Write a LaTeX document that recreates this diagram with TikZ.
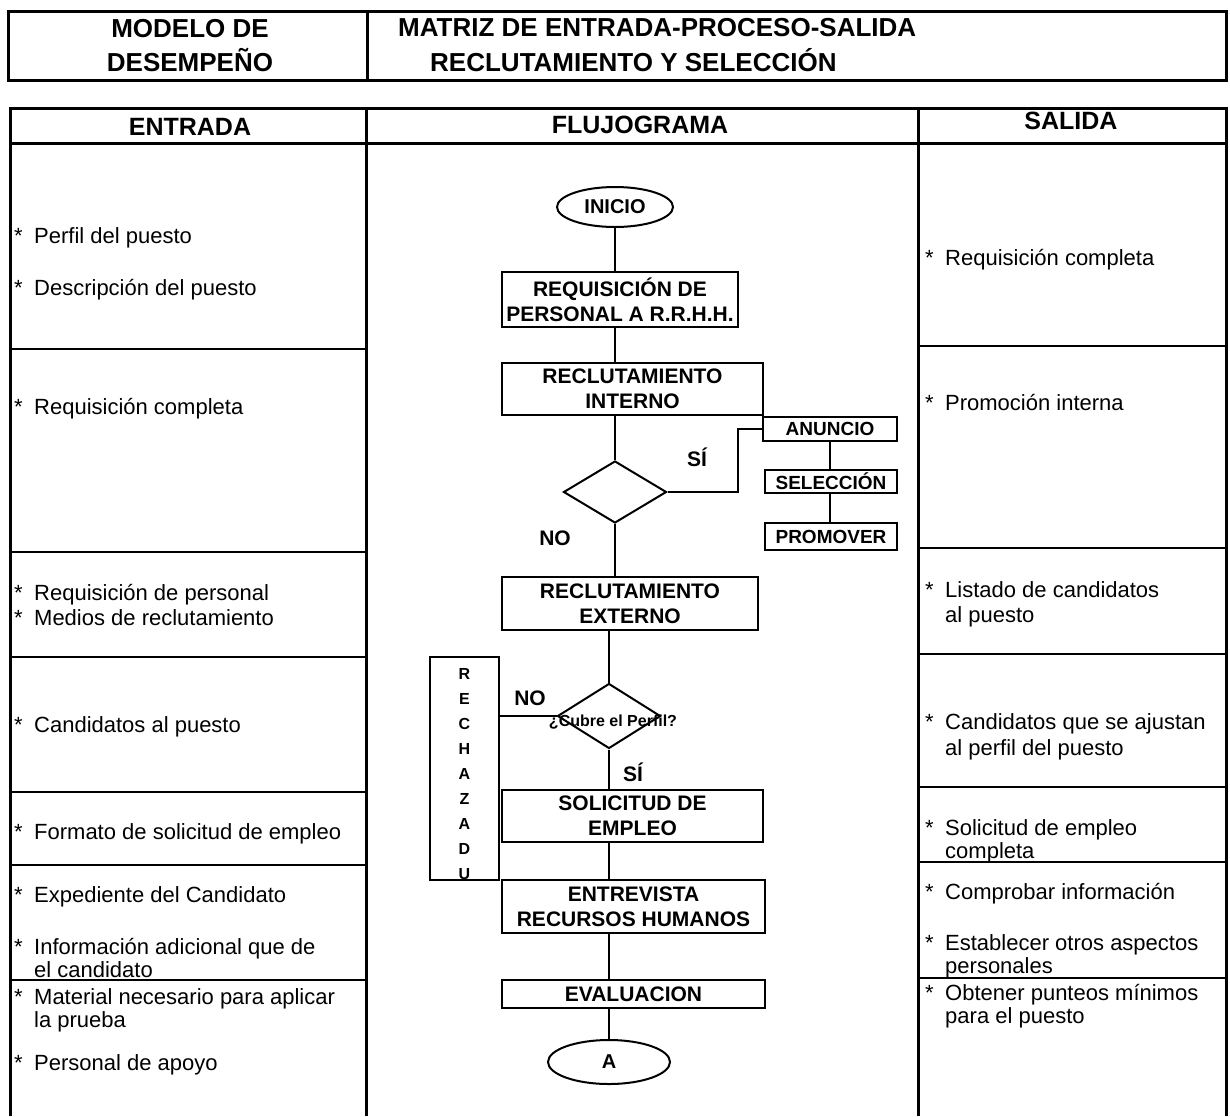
\documentclass[tikz,border=0pt]{standalone}
\usepackage{fontspec}
\setmainfont{Liberation Sans}
\usetikzlibrary{shapes.geometric}
% bullet column: star followed by the item text
\newcommand\st{\makebox[20pt][l]{*}}
\newcommand\cont{\hspace*{20pt}}
\begin{document}
\begin{tikzpicture}[x=1pt,y=-1pt,
  frame/.style={line width=3pt},
  rowline/.style={line width=1.8pt},
  box/.style={draw,line width=2pt,rectangle,inner sep=0pt,align=center,
    font=\fontsize{21pt}{25pt}\selectfont\bfseries},
  smallbox/.style={box,font=\fontsize{19pt}{22pt}\selectfont\bfseries},
  term/.style={draw,ellipse,line width=2pt,inner sep=0pt,
    font=\fontsize{20pt}{22pt}\selectfont\bfseries},
  decision/.style={draw,diamond,line width=2pt,inner sep=0pt,
    minimum width=103pt,minimum height=62pt},
  flow/.style={line width=2pt},
  lbl/.style={anchor=base,inner sep=0pt,font=\fontsize{21pt}{24pt}\selectfont\bfseries},
  item/.style={anchor=base west,inner sep=0pt,align=left,
    font=\fontsize{22pt}{23pt}\selectfont},
  head/.style={inner sep=0pt,font=\fontsize{25pt}{34pt}\selectfont\bfseries},
  title/.style={inner sep=0pt,font=\fontsize{26pt}{34pt}\selectfont\bfseries}
]
\useasboundingbox (0,0) rectangle (1230,1116);

% ---- title block ----
\draw[frame] (8,12) rectangle (1226,80);
\draw[frame] (367,12) -- (367,80);
% multi-line nodes: the base anchor sits on the last line
\node[title,align=center,anchor=base] (modelo) at (190,71) {MODELO DE\\DESEMPEÑO};
\node[title,anchor=base west] (matriz) at (398,37) {MATRIZ DE ENTRADA-PROCESO-SALIDA};
\node[title,anchor=base west] (reclsel) at (430,71) {RECLUTAMIENTO Y SELECCIÓN};

% ---- table frame ----
\draw[frame] (10,1116) -- (10,108) -- (1226,108) -- (1226,1116);
\draw[frame] (10,143) -- (1226,143);
\draw[frame] (366,108) -- (366,1116);
\draw[frame] (918,108) -- (918,1116);
\node[head,anchor=base] (hent) at (190,135) {ENTRADA};
\node[head,anchor=base] (hflu) at (640,133) {FLUJOGRAMA};
\node[head,anchor=base] (hsal) at (1071,129) {SALIDA};

% row separators, input column
\foreach \r in {349,552,657,792,865,980}
  \draw[rowline] (10,\r) -- (366,\r);
% row separators, output column
\foreach \r in {346,548,654,787,862,978}
  \draw[rowline] (918,\r) -- (1226,\r);

% ---- input items ----
\node[item] (e1) at (14,243) {\st Perfil del puesto};
\node[item] (e2) at (14,295) {\st Descripción del puesto};
\node[item] (e3) at (14,414) {\st Requisición completa};
\node[item] (e4) at (14,600) {\st Requisición de personal};
\node[item] (e5) at (14,625) {\st Medios de reclutamiento};
\node[item] (e6) at (14,732) {\st Candidatos al puesto};
\node[item] (e7) at (14,839) {\st Formato de solicitud de empleo};
\node[item] (e8) at (14,902) {\st Expediente del Candidato};
\node[item] (e9) at (14,977) {\st Información adicional que de\\\cont el candidato};
\node[item] (e10) at (14,1027) {\st Material necesario para aplicar\\\cont la prueba};
\node[item] (e11) at (14,1070) {\st Personal de apoyo};

% ---- output items ----
\node[item] (s1) at (925,265) {\st Requisición completa};
\node[item] (s2) at (925,410) {\st Promoción interna};
\node[item] (s3) at (925,622) {\st Listado de candidatos\\[2pt]\cont al puesto};
\node[item] (s4) at (925,755) {\st Candidatos que se ajustan\\[3pt]\cont al perfil del puesto};
\node[item] (s5) at (925,858) {\st Solicitud de empleo\\\cont completa};
\node[item] (s6) at (925,899) {\st Comprobar información};
\node[item] (s7) at (925,973) {\st Establecer otros aspectos\\\cont personales};
\node[item] (s8) at (925,1023) {\st Obtener punteos mínimos\\\cont para el puesto};

% ---- flowchart ----
\node[term,minimum width=116pt,minimum height=40pt] (inicio) at (615,207) {INICIO};
\node[box,minimum width=236pt,minimum height=55pt] (req) at (620,299.5) {REQUISICIÓN DE\\PERSONAL A R.R.H.H.};
\node[box,minimum width=261pt,minimum height=52pt] (ri) at (632.5,389) {RECLUTAMIENTO\\INTERNO};
\node[decision] (d1) at (615,492) {};
\node[smallbox,minimum width=134pt,minimum height=24pt] (anuncio) at (830,429) {ANUNCIO};
\node[smallbox,minimum width=132pt,minimum height=23pt] (selec) at (831,481.5) {SELECCIÓN};
\node[smallbox,minimum width=132pt,minimum height=27pt] (prom) at (831,536.5) {PROMOVER};
\node[box,minimum width=256pt,minimum height=53pt] (re) at (630,603.5) {RECLUTAMIENTO\\EXTERNO};
\node[decision,minimum height=65pt] (d2) at (609,716) {};
\node[inner sep=0pt,font=\fontsize{16pt}{18pt}\selectfont\bfseries] (cubre) at (613,722) {¿Cubre el Perfil?};
\node[draw,line width=2pt,minimum width=69pt,minimum height=223pt,inner sep=0pt] (rech) at (464.5,768.5) {};
\node[anchor=base,inner sep=0pt,align=center,font=\fontsize{16pt}{25pt}\selectfont\bfseries] (rechtxt) at (464.5,879) {R\\E\\C\\H\\A\\Z\\A\\D\\U};
\node[box,minimum width=261pt,minimum height=52pt] (sol) at (632.5,816) {SOLICITUD DE\\EMPLEO};
\node[box,minimum width=263pt,minimum height=53pt] (ent) at (633.5,906.5) {ENTREVISTA\\RECURSOS HUMANOS};
\node[box,minimum width=263pt,minimum height=28pt] (eva) at (633.5,994) {EVALUACION};
\node[term,minimum width=122pt,minimum height=44pt] (fin) at (609,1062) {A};

% decision labels
\node[lbl] (si1) at (697,466) {SÍ};
\node[lbl] (no1) at (555,545) {NO};
\node[lbl] (no2) at (530,705) {NO};
\node[lbl] (si2) at (633,781) {SÍ};

% connectors
\draw[flow] (inicio.south) -- (inicio.south |- req.north);
\draw[flow] (d1.north |- req.south) -- (d1.north |- ri.north);
\draw[flow] (d1.north |- ri.south) -- (d1.north);
\draw[flow] (d1.east) -- ++(70,0) |- (anuncio.west);
\draw[flow] (anuncio.south) -- (anuncio.south |- selec.north);
\draw[flow] (anuncio.south |- selec.south) -- (anuncio.south |- prom.north);
\draw[flow] (d1.south) -- (d1.south |- re.north);
\draw[flow] (d2.north |- re.south) -- (d2.north);
\draw[flow] (d2.west) -- (d2.west -| rech.east);
\draw[flow] (d2.south) -- (d2.south |- sol.north);
\draw[flow] (fin.north |- sol.south) -- (fin.north |- ent.north);
\draw[flow] (fin.north |- ent.south) -- (fin.north |- eva.north);
\draw[flow] (fin.north |- eva.south) -- (fin.north);
\end{tikzpicture}
\end{document}
